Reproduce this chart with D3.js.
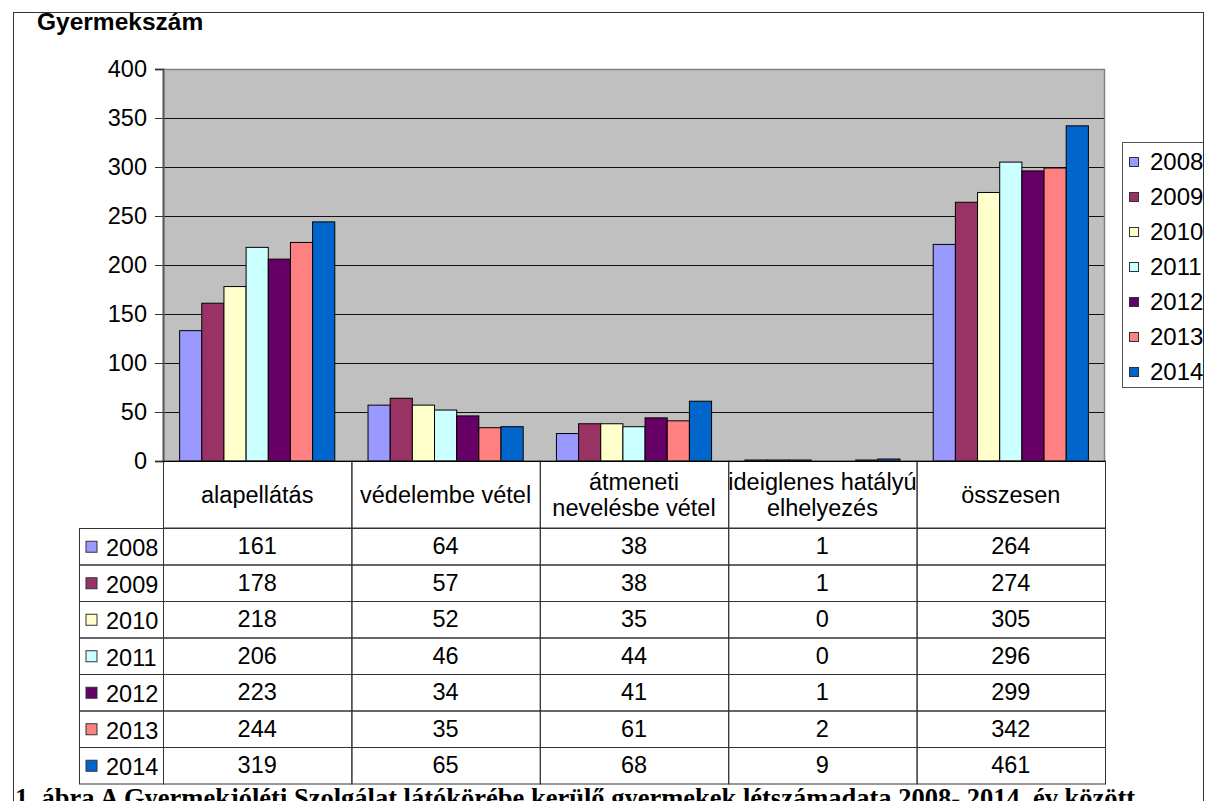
<!DOCTYPE html>
<html>
<head>
<meta charset="utf-8">
<script src="https://cdn.jsdelivr.net/npm/d3@7"></script>
<style>
  body { margin: 0; background: #fff; }
  svg { display: block; }
  text { font-family: "Liberation Sans", Arial, sans-serif; fill: #000; }
</style>
</head>
<body>
<svg id="chart"></svg>
<script>
// Data
const years = ["2008", "2009", "2010", "2011", "2012", "2013", "2014"];
const categories = ["alapellátás", "védelembe vétel", "átmeneti nevelésbe vétel", "ideiglenes hatályú elhelyezés", "összesen"];
const categoryLines = [["alapellátás"], ["védelembe vétel"], ["átmeneti", "nevelésbe vétel"], ["ideiglenes hatályú", "elhelyezés"], ["összesen"]];
const yTicks = [0, 50, 100, 150, 200, 250, 300, 350, 400];

// bar heights as drawn (per year, per category)
const bars2008 = [133, 57, 28, 1, 221];
const bars2009 = [161, 64, 38, 1, 264];
const bars2010 = [178, 57, 38, 1, 274];
const bars2011 = [218, 52, 35, 0, 305];
const bars2012 = [206, 46, 44, 0, 296];
const bars2013 = [223, 34, 41, 1, 299];
const bars2014 = [244, 35, 61, 2, 342];

// values printed in the data table
const table2008 = [161, 64, 38, 1, 264];
const table2009 = [178, 57, 38, 1, 274];
const table2010 = [218, 52, 35, 0, 305];
const table2011 = [206, 46, 44, 0, 296];
const table2012 = [223, 34, 41, 1, 299];
const table2013 = [244, 35, 61, 2, 342];
const table2014 = [319, 65, 68, 9, 461];

const barRows = [bars2008, bars2009, bars2010, bars2011, bars2012, bars2013, bars2014];
const tableRows = [table2008, table2009, table2010, table2011, table2012, table2013, table2014];
const colours = ["#9999FF", "#993366", "#FFFFCC", "#CCFFFF", "#660066", "#FF8080", "#0066CC"];

const width = 1206,
      height = 801;

const svg = d3.select("#chart").attr("width", width).attr("height", height);

const colour = d3.scaleOrdinal().domain(years).range(colours);

// Plot geometry
const plotLeft = 163, plotRight = 1105, plotTop = 69, plotBottom = 461;
const headerBottom = 528, rowH = 36.5, tableLeft = 79;
const tableFont = "23.5px";

const x0 = d3.scaleBand().domain(categories).range([plotLeft, plotRight]);
const x1 = d3.scaleBand().domain(years).range([0, x0.bandwidth()]).paddingOuter(0.75);
const y = d3.scaleLinear().domain([0, 400]).range([plotBottom, plotTop]);

// clip to the chart frame
svg.append("clipPath").attr("id", "frame")
  .append("rect").attr("x", 13).attr("y", 12).attr("width", 1190).attr("height", 820);

const g = svg.append("g").attr("clip-path", "url(#frame)");

// Plot background
g.append("rect")
  .attr("x", plotLeft).attr("y", plotTop)
  .attr("width", plotRight - plotLeft).attr("height", plotBottom - plotTop)
  .attr("fill", "#C0C0C0");

// Gridlines
g.selectAll(".grid")
  .data(yTicks.filter(d => d > 0 && d < 400))
  .enter().append("line")
  .attr("x1", plotLeft).attr("x2", plotRight)
  .attr("y1", d => Math.round(y(d)) + 0.5).attr("y2", d => Math.round(y(d)) + 0.5)
  .attr("stroke", "#111").attr("stroke-width", 1);

// top and right border of plot
g.append("path")
  .attr("d", `M${plotLeft},${plotTop + 0.5}H${plotRight - 0.5}V${plotBottom}`)
  .attr("fill", "none").attr("stroke", "#808080").attr("stroke-width", 1.5);

// Bars
const series = g.selectAll(".series")
  .data(years)
  .enter().append("g")
  .attr("fill", d => colour(d));

series.selectAll("rect")
  .data((yr, i) => categories.map((c, j) => ({cat: c, year: yr, value: barRows[i][j]})).filter(d => d.value > 0))
  .enter().append("rect")
  .attr("x", d => x0(d.cat) + x1(d.year))
  .attr("y", d => y(d.value))
  .attr("width", x1.bandwidth())
  .attr("height", d => y(0) - y(d.value))
  .attr("stroke", "#000")
  .attr("stroke-width", 1);

// Y axis
const yAxis = g.append("g")
  .attr("transform", `translate(${plotLeft},0)`)
  .call(d3.axisLeft(y).tickValues(yTicks).tickSize(8).tickPadding(8));

yAxis.select(".domain").attr("stroke", "#555").attr("stroke-width", 2);
yAxis.selectAll(".tick line").attr("stroke", "#333");
yAxis.selectAll(".tick text")
  .style("font-family", "Liberation Sans, Arial, sans-serif")
  .style("font-size", "23.5px")
  .attr("fill", "#000");

// Axis title
g.append("text")
  .attr("x", 37).attr("y", 30)
  .style("font-size", "24.5px").style("font-weight", "bold")
  .text("Gyermekszám");

// Data table
const lineCol = "#333";

// header cells
g.selectAll(".hdr")
  .data(categories)
  .enter().append("rect")
  .attr("x", d => x0(d) + 0.5).attr("y", plotBottom)
  .attr("width", x0.bandwidth()).attr("height", headerBottom - plotBottom)
  .attr("fill", "none").attr("stroke", lineCol);

g.selectAll(".hdrText")
  .data(categories)
  .enter().append("text")
  .attr("text-anchor", "middle")
  .style("font-size", tableFont)
  .each(function(d, i) {
    const lines = categoryLines[i];
    const cy = (plotBottom + headerBottom) / 2;
    lines.forEach((ln, k) => {
      d3.select(this).append("tspan")
        .attr("x", x0(d) + x0.bandwidth() / 2)
        .attr("y", cy + (k - (lines.length - 1) / 2) * 26)
        .attr("dy", "0.35em")
        .text(ln);
    });
  });

// x axis line over the header
g.append("line")
  .attr("x1", plotLeft).attr("x2", plotRight)
  .attr("y1", plotBottom + 0.5).attr("y2", plotBottom + 0.5)
  .attr("stroke", "#000");

// rows
const rows = g.selectAll(".row")
  .data(years)
  .enter().append("g")
  .attr("transform", (d, i) => `translate(0,${headerBottom + i * rowH})`);

rows.append("rect")
  .attr("x", tableLeft + 0.5).attr("y", 0.5)
  .attr("width", plotLeft - tableLeft).attr("height", rowH)
  .attr("fill", "none").attr("stroke", lineCol);

rows.selectAll(".cell")
  .data(categories)
  .enter().append("rect")
  .attr("x", d => x0(d) + 0.5).attr("y", 0.5)
  .attr("width", x0.bandwidth()).attr("height", rowH)
  .attr("fill", "none").attr("stroke", lineCol);

rows.append("rect")
  .attr("x", 86).attr("y", rowH / 2 - 5)
  .attr("width", 11).attr("height", 11)
  .attr("fill", d => colour(d))
  .attr("stroke", "#333");

rows.append("text")
  .attr("x", 106).attr("y", rowH / 2 + 2)
  .attr("dy", "0.35em")
  .style("font-size", tableFont)
  .text(d => d);

rows.selectAll(".val")
  .data((yr, i) => categories.map((c, j) => ({cat: c, value: tableRows[i][j]})))
  .enter().append("text")
  .attr("x", d => x0(d.cat) + x0.bandwidth() / 2)
  .attr("y", rowH / 2)
  .attr("dy", "0.35em")
  .attr("text-anchor", "middle")
  .style("font-size", tableFont)
  .text(d => d.value);

// Legend
const legend = g.append("g").attr("transform", "translate(1122,142)");

legend.append("rect")
  .attr("x", 0.5).attr("y", 0.5)
  .attr("width", 100).attr("height", 245)
  .attr("fill", "#fff").attr("stroke", "#555");

const item = legend.selectAll(".item")
  .data(years)
  .enter().append("g")
  .attr("transform", (d, i) => `translate(0,${20 + i * 35})`);

item.append("rect")
  .attr("x", 7.5).attr("y", -4.5)
  .attr("width", 9).attr("height", 9)
  .attr("fill", d => colour(d))
  .attr("stroke", "#333");

item.append("text")
  .attr("x", 28).attr("dy", "0.35em")
  .style("font-size", "24px")
  .text(d => d);

// Chart frame
svg.append("rect")
  .attr("x", 13.5).attr("y", 12.5)
  .attr("width", 1190).attr("height", 820)
  .attr("fill", "none").attr("stroke", "#333");

// Caption (partly below the page edge, as in the source)
svg.append("text")
  .attr("x", 15).attr("y", 807)
  .style("font-family", "Liberation Serif, Times New Roman, serif")
  .style("font-size", "26.5px").style("font-weight", "bold")
  .text("1. ábra A Gyermekjóléti Szolgálat látókörébe kerülő gyermekek létszámadata 2008- 2014. év között");
</script>
</body>
</html>
